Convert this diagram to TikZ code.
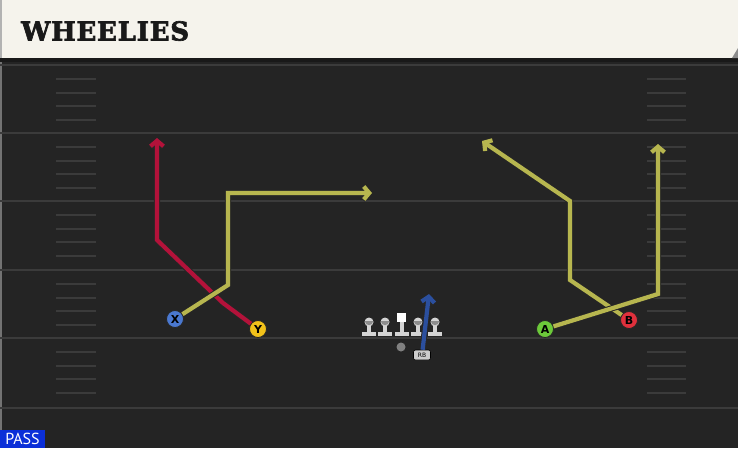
\documentclass[tikz,border=0pt]{standalone}
\usepackage{fontspec}
\setsansfont{DejaVu Sans}
\newfontfamily\titlefont[FakeBold=2.5,LetterSpace=3]{DejaVu Serif}
\newfontfamily\tagfont{PT Sans}
\usetikzlibrary{arrows.meta}
\definecolor{fieldbg}{HTML}{242424}
\definecolor{lineclr}{HTML}{3B3B3B}
\definecolor{headerbg}{HTML}{F5F3EC}
\definecolor{olive}{HTML}{B7B64F}
\definecolor{crimson}{HTML}{B3123A}
\definecolor{rbblue}{HTML}{2B4F9E}
\definecolor{xblue}{HTML}{4A78D0}
\definecolor{yyellow}{HTML}{F2C21A}
\definecolor{agreen}{HTML}{6CC93A}
\definecolor{bred}{HTML}{E0303C}
\definecolor{passblue}{HTML}{0B2FD8}
\definecolor{lineman}{HTML}{D4D4D4}

\begin{document}
\begin{tikzpicture}[x=1pt,y=-1pt,
		route/.style={draw=#1,line width=4.2pt,-{Straight Barb[length=5.5pt,width=13pt]},preaction={draw=black!85,line width=6.2pt}},
		player/.style={circle,draw=black!85,line width=0.8pt,fill=#1,minimum size=17pt,inner sep=0pt,font=\sffamily\bfseries\fontsize{11}{11}\selectfont},
		yardline/.style={draw=lineclr,line width=1.6pt},
		hashmark/.style={draw=lineclr,line width=1.2pt}]
		\useasboundingbox (0,0) rectangle (738,448);
		%
		\fill[fieldbg] (0,59) rectangle (738,448);
		\fill[black!55] (0,59) rectangle (2,448);
		\foreach \y in {65,133,201,270,338,408}
			\draw[yardline] (0,\y) -- (738,\y);
		\foreach \y in {65,133,201,270,338}
			\foreach \d in {14,28,41,55} {
				\draw[hashmark] (56,\y+\d) -- (96,\y+\d);
				\draw[hashmark] (647,\y+\d) -- (686,\y+\d);
			}
		%
		\fill[black!90] (0,57) rectangle (738,62);
		\fill[black!30] (0,0) rectangle (738,58);
		\fill[headerbg] (2,0) rectangle (738,58);
		\fill[black!45] (738,48) -- (738,58) -- (732,58) -- cycle;
		\node[anchor=west,inner sep=0pt,font=\titlefont\bfseries\fontsize{26}{26}\selectfont,text=black!90] (title) at (21,31) {WHEELIES};
		%
		\fill[passblue] (0,430) rectangle (45,448);
		\node[anchor=base,text=white,inner sep=0pt,font=\tagfont\fontsize{16}{16}\selectfont] (pass) at (22.5,444) {PASS};
		%
		\foreach \x in {369,385,418,435} {
			\fill[lineman] (\x-7,332) rectangle (\x+7,336);
			\fill[lineman] (\x-2,325) rectangle (\x+2,333);
			\fill[lineman] (\x,322) circle (4.5);
			\fill[black!45] (\x,322) ++(-4.2,-1) arc (180:0:4.2) -- cycle;
		}
		\fill[lineman] (395,332) rectangle (409,336);
		\fill[lineman] (400,322) rectangle (404,333);
		\fill[white] (397,313) rectangle (406,322);
		%
		\node[circle,fill=black!50,minimum size=9pt,inner sep=0pt] (QB) at (401,347) {};
		\node[rounded corners=2pt,fill=black!20,draw=black,line width=0.6pt,inner sep=1pt,minimum width=17pt,minimum height=10pt,font=\sffamily\fontsize{6}{6}\selectfont] (RB) at (422,355) {RB};
		%
		\node[player=xblue] (X) at (175,319) {X};
		\node[player=yyellow] (Y) at (258,329) {Y};
		\node[player=agreen] (A) at (545,329) {A};
		\node[player=bred] (B) at (629,320) {B};
		%
		\coordinate (x1) at (228,285);
		\coordinate (x2) at (228,193);
		\coordinate (x3) at (372,193);
		\coordinate (y1) at (223,303);
		\coordinate (y2) at (157,240);
		\coordinate (y3) at (157,138);
		\coordinate (a1) at (658,294);
		\coordinate (a2) at (658,144);
		\coordinate (b1) at (570,280);
		\coordinate (b2) at (570,201);
		\coordinate (b3) at (482,141);
		\coordinate (rb1) at (429,294);
		%
		\draw[route=crimson] (Y) -- (y1) -- (y2) -- (y3);
		\draw[route=olive] (X) -- (x1) -- (x2) -- (x3);
		\draw[route=olive] (B) -- (b1) -- (b2) -- (b3);
		\draw[route=olive] (A) -- (a1) -- (a2);
		\draw[route=rbblue] (RB) -- (rb1);
	\end{tikzpicture}
\end{document}
